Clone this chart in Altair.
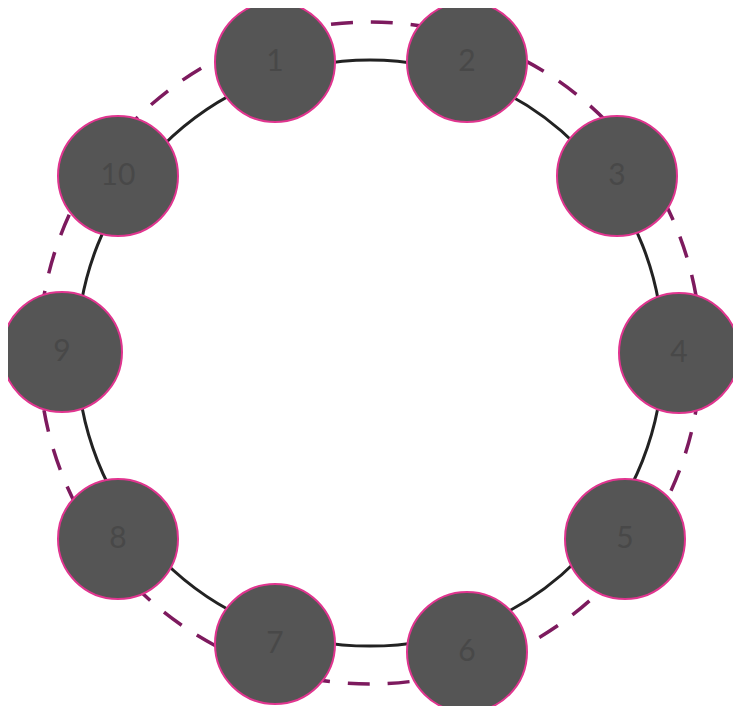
import altair as alt
import pandas as pd

LABELS = ['1', '2', '3', '4', '5', '6', '7', '8', '9', '10']
NODE_X = [275, 467, 617, 679, 625, 467, 275, 118, 62, 118]
NODE_Y = [62, 62, 176, 353, 539, 652, 644, 539, 352, 176]
RING_X = [370, 370]
RING_Y = [353, 353]
RING_DIAM = [586, 662]
RING_KIND = ['solid', 'dashed']

nodes = pd.DataFrame({'label': LABELS, 'x': NODE_X, 'y': NODE_Y})
rings = pd.DataFrame({'x': RING_X, 'y': RING_Y, 'd': RING_DIAM, 'kind': RING_KIND})
rings['size'] = rings['d'] ** 2

x = alt.X('x:Q', scale=alt.Scale(domain=[8, 733]), axis=None)
y = alt.Y('y:Q', scale=alt.Scale(domain=[706, 8]), axis=None)

solid = alt.Chart(rings[rings.kind == 'solid']).mark_point(
    shape='circle', filled=False, stroke='#222222', strokeWidth=3, opacity=1
).encode(x=x, y=y, size=alt.Size('size:Q', scale=None, legend=None))

dashed = alt.Chart(rings[rings.kind == 'dashed']).mark_point(
    shape='circle', filled=False, stroke='#7d1a5e', strokeWidth=3.5, opacity=1, strokeDash=[22, 18]
).encode(x=x, y=y, size=alt.Size('size:Q', scale=None, legend=None))

discs = alt.Chart(nodes).mark_point(
    shape='circle', filled=True, fill='#555555', stroke='#e0358f', strokeWidth=2, size=14400, opacity=1
).encode(x=x, y=y)

text = alt.Chart(nodes).mark_text(
    fontSize=30, font='Lato', color='#484848'
).encode(x=x, y=y, text='label:N')

chart = alt.layer(solid, dashed, discs, text).properties(
    width=725, height=698, padding=0, autosize='none'
).configure_view(stroke=None)

chart.save("out.html", embed_options={"renderer": "svg", "actions": False})
